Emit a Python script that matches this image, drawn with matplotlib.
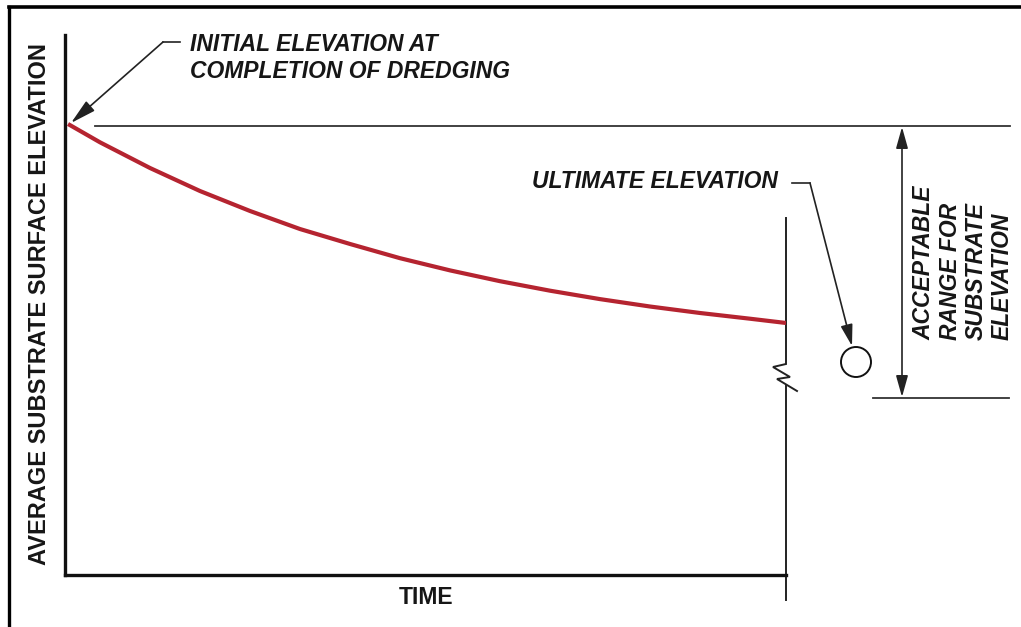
import matplotlib
matplotlib.use("Agg")
import matplotlib.pyplot as plt
from matplotlib.patches import Circle, FancyArrowPatch

# ---- data (time and elevation in relative units) ----
time = [0.42, 4.85, 11.79, 18.72, 25.66, 32.59, 39.53, 46.46, 53.40, 60.33, 67.27, 74.20, 81.14, 88.07, 95.01, 100.0]
elevation = [83.52, 80.13, 75.37, 71.11, 67.41, 64.07, 61.30, 58.67, 56.41, 54.41, 52.65, 51.09, 49.72, 48.52, 47.46, 46.67]

x_label = "TIME"
y_label = "AVERAGE SUBSTRATE SURFACE ELEVATION"
initial_label = "INITIAL ELEVATION AT\nCOMPLETION OF DREDGING"
ultimate_label = "ULTIMATE ELEVATION"
range_label = "ACCEPTABLE\nRANGE FOR\nSUBSTRATE\nELEVATION"

W, H = 1021, 627
fig = plt.figure(figsize=(W / 100, H / 100), dpi=100)

# overlay axes in pixel coordinates for the schematic annotations
ov = fig.add_axes([0, 0, 1, 1])
ov.set_xlim(0, W)
ov.set_ylim(H, 0)
ov.axis("off")

# main plotting axes
x0, x1, ytop, ybot = 65, 786, 35, 575
ax = fig.add_axes([x0 / W, (H - ybot) / H, (x1 - x0) / W, (ybot - ytop) / H])
ax.set_xlim(0, 100)
ax.set_ylim(0, 100)
ax.patch.set_alpha(0)
for s in ["top", "right"]:
    ax.spines[s].set_visible(False)
for s in ["left", "bottom"]:
    ax.spines[s].set_linewidth(2.4)
    ax.spines[s].set_color("#111111")
ax.set_xticks([])
ax.set_yticks([])
ax.plot(time, elevation, color="#B52430", lw=3.0, solid_capstyle="butt",
        solid_joinstyle="round", zorder=3)

font = ["Liberation Sans", "DejaVu Sans"]
lc = "#222222"
tc = "#161616"

# frame (top and left edges)
ov.plot([9, W], [7, 7], color="black", lw=2.6)
ov.plot([9, 9], [7, H], color="black", lw=2.4)

# labels
ov.text(40, 304, y_label, rotation=90, ha="center", va="center", fontsize=17,
        fontweight="bold", family=font, color=tc)
ov.text(426, 598, x_label, ha="center", va="center", fontsize=16.5,
        fontweight="bold", family=font, color=tc)

# initial elevation annotation
ov.text(190, 58, initial_label, ha="left", va="center", fontsize=16.5,
        fontweight="bold", fontstyle="italic", family=font, color=tc,
        linespacing=1.2)
ov.plot([180, 163], [42, 42], color=lc, lw=1.2)
ov.add_patch(FancyArrowPatch((163, 42), (71, 123), arrowstyle="-|>,head_length=12,head_width=3",
                             color=lc, lw=1.2, shrinkA=0, shrinkB=0, mutation_scale=1.3))

# top reference line
ov.plot([95, 1010], [126, 126], color="#333333", lw=1.3)
# bottom reference line
ov.plot([873, 1009], [398, 398], color="#333333", lw=1.3)
# double arrow for acceptable range
ov.add_patch(FancyArrowPatch((902, 127), (902, 397), arrowstyle="<|-|>,head_length=10,head_width=2.8",
                             color=lc, lw=1.2, shrinkA=0, shrinkB=0, mutation_scale=1.3))
ov.text(963, 340, range_label, rotation=90, ha="center", va="bottom", multialignment="left",
        fontsize=16.5, fontweight="bold", fontstyle="italic", family=font, color=tc,
        linespacing=1.16)

# vertical line at end of time axis with break symbol
ov.plot([786, 786, 773, 790, 777, 797], [218, 364, 367, 377, 379, 391], color=lc, lw=1.4,
        solid_joinstyle="miter")
ov.plot([786, 786], [386, 600], color=lc, lw=1.4)

# ultimate elevation annotation
ov.text(778, 182, ultimate_label, ha="right", va="center", fontsize=16.5,
        fontweight="bold", fontstyle="italic", family=font, color=tc)
ov.plot([792, 810], [183, 183], color=lc, lw=1.2)
ov.add_patch(FancyArrowPatch((810, 183), (852, 346), arrowstyle="-|>,head_length=10,head_width=2.8",
                             color=lc, lw=1.2, shrinkA=0, shrinkB=0, mutation_scale=1.3))
ov.add_patch(Circle((856, 362), 15, fill=False, ec="#111111", lw=1.4))

fig.savefig("out.png", dpi=100)
